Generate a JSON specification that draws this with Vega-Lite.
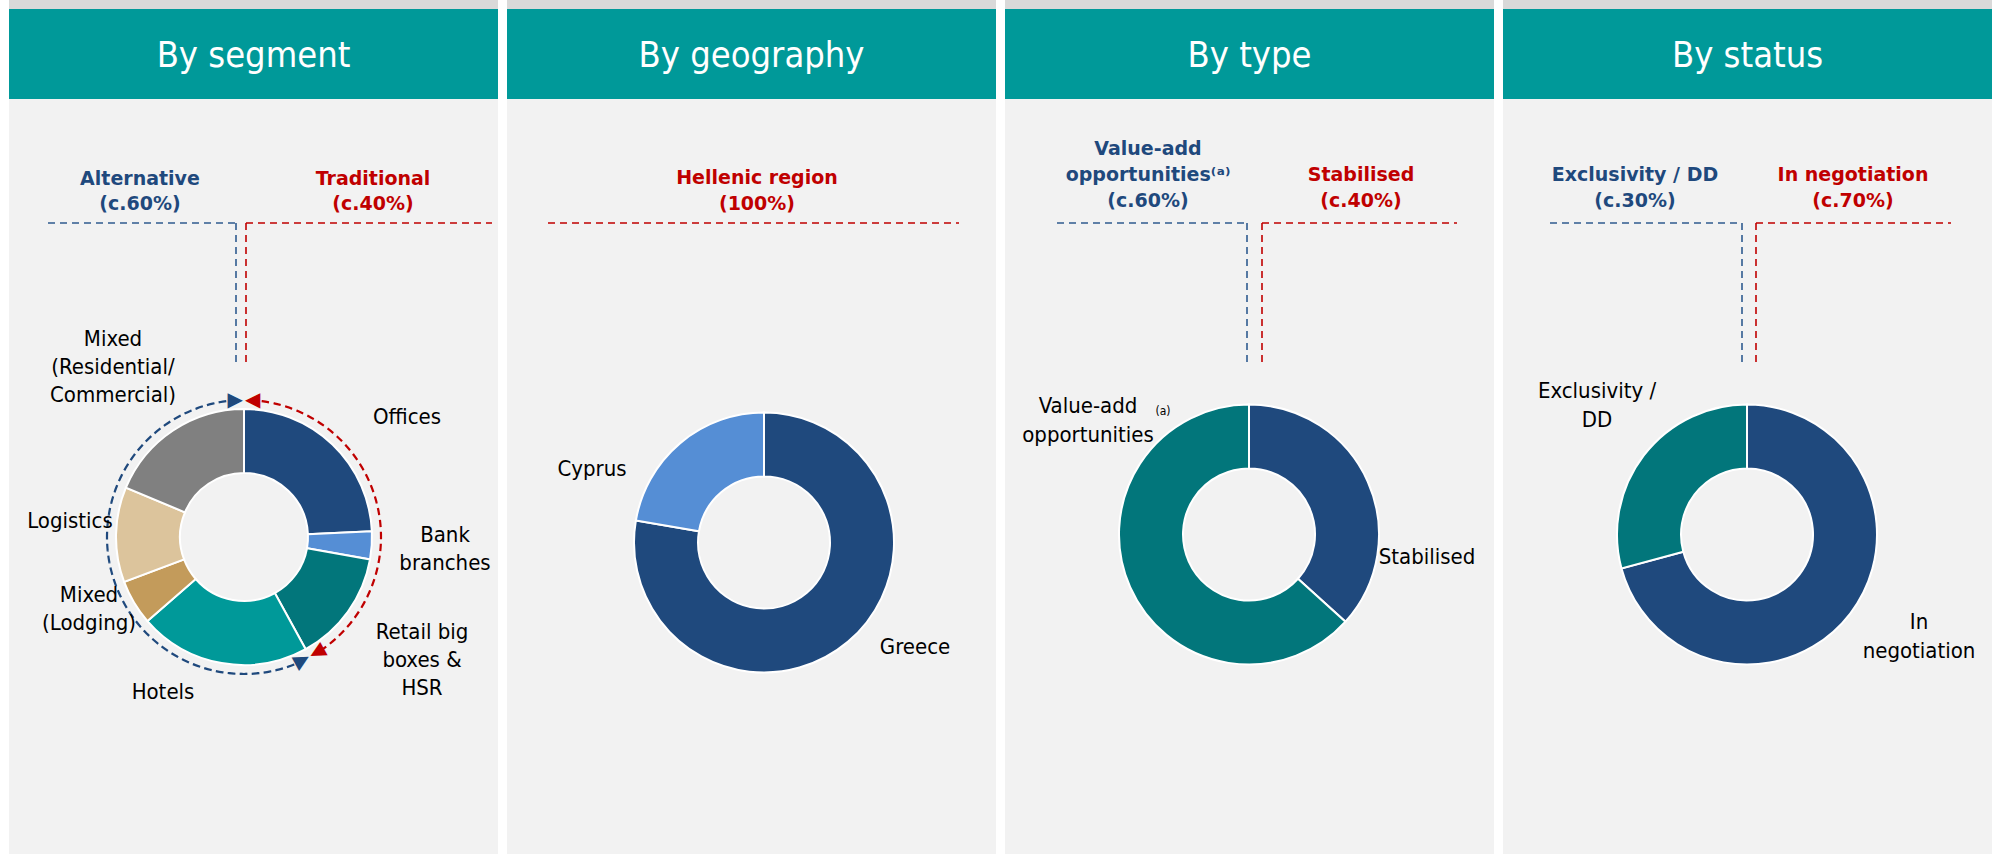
{
  "$schema": "https://vega.github.io/schema/vega-lite/v6.json",
  "background": "#ffffff",
  "padding": {"left": 9, "top": 0, "right": 0, "bottom": 0},
  "spacing": 9,
  "resolve": {"scale": {"x": "independent", "y": "independent", "theta": "independent", "color": "independent", "fill": "independent", "stroke": "independent", "angle": "independent"}},
  "config": {"view": {"stroke": null}, "axis": {"disable": true}},
  "datasets": {
    "segment": [
      {"category": "Offices", "label": "Offices", "group": "Traditional", "share": 24.3, "order": 1},
      {"category": "Bank branches", "label": "Bank\nbranches", "group": "Traditional", "share": 3.5, "order": 2},
      {"category": "Retail big boxes & HSR", "label": "Retail big\nboxes &\nHSR", "group": "Traditional", "share": 14.2, "order": 3},
      {"category": "Hotels", "label": "Hotels", "group": "Alternative", "share": 21.6, "order": 4},
      {"category": "Mixed (Lodging)", "label": "Mixed\n(Lodging)", "group": "Alternative", "share": 5.7, "order": 5},
      {"category": "Logistics", "label": "Logistics", "group": "Alternative", "share": 12.0, "order": 6},
      {"category": "Mixed (Residential/Commercial)", "label": "Mixed\n(Residential/\nCommercial)", "group": "Alternative", "share": 18.7, "order": 7}
    ],
    "segmentGroups": [
      {"group": "Alternative", "heading": "Alternative\n(c.60%)"},
      {"group": "Traditional", "heading": "Traditional\n(c.40%)"}
    ],
    "geography": [
      {"category": "Greece", "label": "Greece", "share": 77.7, "order": 1},
      {"category": "Cyprus", "label": "Cyprus", "share": 22.3, "order": 2}
    ],
    "geographyGroups": [
      {"group": "Hellenic region", "heading": "Hellenic region\n(100%)"}
    ],
    "type": [
      {"category": "Stabilised", "label": "Stabilised", "share": 36.7, "order": 1},
      {"category": "Value-add opportunities", "label": "Value-add\nopportunities", "note": "(a)", "share": 63.3, "order": 2}
    ],
    "typeGroups": [
      {"group": "Value-add opportunities", "heading": "Value-add\nopportunities⁽ᵃ⁾\n(c.60%)"},
      {"group": "Stabilised", "heading": "Stabilised\n(c.40%)"}
    ],
    "status": [
      {"category": "In negotiation", "label": "In\nnegotiation", "share": 70.8, "order": 1},
      {"category": "Exclusivity / DD", "label": "Exclusivity /\nDD", "share": 29.2, "order": 2}
    ],
    "statusGroups": [
      {"group": "Exclusivity / DD", "heading": "Exclusivity / DD\n(c.30%)"},
      {"group": "In negotiation", "heading": "In negotiation\n(c.70%)"}
    ]
  },
  "hconcat": [
    {
      "spacing": 0,
      "vconcat": [
        {"width": 489, "height": 9, "view": {"fill": "#d9d9d9", "stroke": null}, "data": {"values": [{"t": ""}]}, "mark": {"type": "text", "fontSize": 1, "baseline": "top"}, "encoding": {"text": {"field": "t", "type": "nominal"}}},
        {"width": 489, "height": 90, "view": {"fill": "#009999", "stroke": null}, "data": {"values": [{"title": "By segment"}]}, "mark": {"type": "text", "font": "DejaVu Sans Condensed, DejaVu Sans, sans-serif", "fontSize": 36, "color": "#ffffff", "baseline": "middle", "dy": 2}, "encoding": {"text": {"field": "title", "type": "nominal"}}},
        {
          "width": 489, "height": 755, "view": {"fill": "#f2f2f2", "stroke": null},
          "layer": [
            {"data": {"name": "segment"},
             "mark": {"type": "arc", "innerRadius": 64, "outerRadius": 128, "stroke": "#ffffff", "strokeWidth": 2},
             "encoding": {
               "theta": {"field": "share", "type": "quantitative", "stack": true},
               "order": {"field": "order", "type": "quantitative"},
               "color": {"field": "category", "type": "nominal", "legend": null, "scale": {"domain": ["Offices", "Bank branches", "Retail big boxes & HSR", "Hotels", "Mixed (Lodging)", "Logistics", "Mixed (Residential/Commercial)"], "range": ["#1f497d", "#558ed5", "#02767b", "#009999", "#c39b5b", "#dcc49c", "#808080"]}},
               "x": {"datum": 235, "type": "quantitative", "scale": {"domain": [0, 489], "nice": false}, "axis": null},
               "y": {"datum": 438, "type": "quantitative", "scale": {"domain": [0, 755], "nice": false, "reverse": true}, "axis": null}}},
            {"data": {"name": "segment"},
             "transform": [
               {"aggregate": [{"op": "sum", "field": "share", "as": "share"}, {"op": "min", "field": "order", "as": "order"}], "groupby": ["group"]},
               {"stack": "share", "groupby": [], "sort": [{"field": "order", "order": "ascending"}], "as": ["s0", "s1"]}],
             "mark": {"type": "arc", "innerRadius": 137, "outerRadius": 137, "padAngle": 0.1, "filled": false, "strokeWidth": 2.2, "strokeDash": [7, 5], "strokeDashOffset": 3.5},
             "encoding": {
               "theta": {"field": "s0", "type": "quantitative", "stack": null},
               "theta2": {"field": "s1"},
               "stroke": {"field": "group", "type": "nominal", "legend": null, "scale": {"domain": ["Traditional", "Alternative"], "range": ["#c00000", "#1f497d"]}},
               "x": {"datum": 235, "type": "quantitative", "scale": {"domain": [0, 489], "nice": false}, "axis": null},
               "y": {"datum": 438, "type": "quantitative", "scale": {"domain": [0, 755], "nice": false, "reverse": true}, "axis": null}}},
            {"data": {"name": "segment"},
             "transform": [
               {"aggregate": [{"op": "sum", "field": "share", "as": "share"}, {"op": "min", "field": "order", "as": "order"}], "groupby": ["group"]},
               {"stack": "share", "groupby": [], "sort": [{"field": "order", "order": "ascending"}], "as": ["s0", "s1"]}],
             "mark": {"type": "text", "text": "▶", "font": "DejaVu Sans", "fontSize": 20, "align": "right", "baseline": "middle", "radius": 137, "dx": -1},
             "encoding": {
               "theta": {"field": "s1", "type": "quantitative", "stack": null},
               "angle": {"field": "s1", "type": "quantitative", "legend": null, "scale": {"domain": [0, 100], "range": [0, 360]}},
               "fill": {"field": "group", "type": "nominal", "legend": null, "scale": {"domain": ["Traditional", "Alternative"], "range": ["#c00000", "#1f497d"]}},
               "x": {"datum": 235, "type": "quantitative", "scale": {"domain": [0, 489], "nice": false}, "axis": null},
               "y": {"datum": 438, "type": "quantitative", "scale": {"domain": [0, 755], "nice": false, "reverse": true}, "axis": null}}},
            {"data": {"name": "segment"},
             "transform": [
               {"aggregate": [{"op": "sum", "field": "share", "as": "share"}, {"op": "min", "field": "order", "as": "order"}], "groupby": ["group"]},
               {"stack": "share", "groupby": [], "sort": [{"field": "order", "order": "ascending"}], "as": ["s0", "s1"]}],
             "mark": {"type": "text", "text": "◀", "font": "DejaVu Sans", "fontSize": 20, "align": "left", "baseline": "middle", "radius": 137, "dx": 1},
             "encoding": {
               "theta": {"field": "s0", "type": "quantitative", "stack": null},
               "angle": {"field": "s0", "type": "quantitative", "legend": null, "scale": {"domain": [0, 100], "range": [0, 360]}},
               "fill": {"field": "group", "type": "nominal", "legend": null, "scale": {"domain": ["Traditional", "Alternative"], "range": ["#c00000", "#1f497d"]}},
               "x": {"datum": 235, "type": "quantitative", "scale": {"domain": [0, 489], "nice": false}, "axis": null},
               "y": {"datum": 438, "type": "quantitative", "scale": {"domain": [0, 755], "nice": false, "reverse": true}, "axis": null}}},
            {"data": {"name": "segment"}, "transform": [{"filter": "datum.order === 1"}],
             "mark": {"type": "text", "font": "DejaVu Sans Condensed, DejaVu Sans, sans-serif", "fontSize": 22, "lineHeight": 28, "lineBreak": "\n", "color": "#000000", "align": "center", "baseline": "middle"},
             "encoding": {"text": {"field": "label", "type": "nominal"},
               "x": {"datum": 398, "type": "quantitative", "scale": {"domain": [0, 489], "nice": false}, "axis": null},
               "y": {"datum": 318, "type": "quantitative", "scale": {"domain": [0, 755], "nice": false, "reverse": true}, "axis": null}}},
            {"data": {"name": "segment"}, "transform": [{"filter": "datum.order === 2"}],
             "mark": {"type": "text", "font": "DejaVu Sans Condensed, DejaVu Sans, sans-serif", "fontSize": 22, "lineHeight": 28, "lineBreak": "\n", "color": "#000000", "align": "center", "baseline": "middle"},
             "encoding": {"text": {"field": "label", "type": "nominal"},
               "x": {"datum": 436, "type": "quantitative", "scale": {"domain": [0, 489], "nice": false}, "axis": null},
               "y": {"datum": 436, "type": "quantitative", "scale": {"domain": [0, 755], "nice": false, "reverse": true}, "axis": null}}},
            {"data": {"name": "segment"}, "transform": [{"filter": "datum.order === 3"}],
             "mark": {"type": "text", "font": "DejaVu Sans Condensed, DejaVu Sans, sans-serif", "fontSize": 22, "lineHeight": 28, "lineBreak": "\n", "color": "#000000", "align": "center", "baseline": "middle"},
             "encoding": {"text": {"field": "label", "type": "nominal"},
               "x": {"datum": 413, "type": "quantitative", "scale": {"domain": [0, 489], "nice": false}, "axis": null},
               "y": {"datum": 533, "type": "quantitative", "scale": {"domain": [0, 755], "nice": false, "reverse": true}, "axis": null}}},
            {"data": {"name": "segment"}, "transform": [{"filter": "datum.order === 4"}],
             "mark": {"type": "text", "font": "DejaVu Sans Condensed, DejaVu Sans, sans-serif", "fontSize": 22, "lineHeight": 28, "lineBreak": "\n", "color": "#000000", "align": "center", "baseline": "middle"},
             "encoding": {"text": {"field": "label", "type": "nominal"},
               "x": {"datum": 154, "type": "quantitative", "scale": {"domain": [0, 489], "nice": false}, "axis": null},
               "y": {"datum": 593, "type": "quantitative", "scale": {"domain": [0, 755], "nice": false, "reverse": true}, "axis": null}}},
            {"data": {"name": "segment"}, "transform": [{"filter": "datum.order === 5"}],
             "mark": {"type": "text", "font": "DejaVu Sans Condensed, DejaVu Sans, sans-serif", "fontSize": 22, "lineHeight": 28, "lineBreak": "\n", "color": "#000000", "align": "center", "baseline": "middle"},
             "encoding": {"text": {"field": "label", "type": "nominal"},
               "x": {"datum": 80, "type": "quantitative", "scale": {"domain": [0, 489], "nice": false}, "axis": null},
               "y": {"datum": 496, "type": "quantitative", "scale": {"domain": [0, 755], "nice": false, "reverse": true}, "axis": null}}},
            {"data": {"name": "segment"}, "transform": [{"filter": "datum.order === 6"}],
             "mark": {"type": "text", "font": "DejaVu Sans Condensed, DejaVu Sans, sans-serif", "fontSize": 22, "lineHeight": 28, "lineBreak": "\n", "color": "#000000", "align": "center", "baseline": "middle"},
             "encoding": {"text": {"field": "label", "type": "nominal"},
               "x": {"datum": 61, "type": "quantitative", "scale": {"domain": [0, 489], "nice": false}, "axis": null},
               "y": {"datum": 422, "type": "quantitative", "scale": {"domain": [0, 755], "nice": false, "reverse": true}, "axis": null}}},
            {"data": {"name": "segment"}, "transform": [{"filter": "datum.order === 7"}],
             "mark": {"type": "text", "font": "DejaVu Sans Condensed, DejaVu Sans, sans-serif", "fontSize": 22, "lineHeight": 28, "lineBreak": "\n", "color": "#000000", "align": "center", "baseline": "middle"},
             "encoding": {"text": {"field": "label", "type": "nominal"},
               "x": {"datum": 104, "type": "quantitative", "scale": {"domain": [0, 489], "nice": false}, "axis": null},
               "y": {"datum": 240, "type": "quantitative", "scale": {"domain": [0, 755], "nice": false, "reverse": true}, "axis": null}}},
            {"data": {"name": "segmentGroups"}, "transform": [{"filter": "datum.group === 'Alternative'"}],
             "mark": {"type": "text", "font": "DejaVu Sans, sans-serif", "fontSize": 19, "fontWeight": "bold", "lineHeight": 25, "lineBreak": "\n", "color": "#1f497d", "align": "center", "baseline": "middle"},
             "encoding": {"text": {"field": "heading", "type": "nominal"},
               "x": {"datum": 131, "type": "quantitative", "scale": {"domain": [0, 489], "nice": false}, "axis": null},
               "y": {"datum": 80, "type": "quantitative", "scale": {"domain": [0, 755], "nice": false, "reverse": true}, "axis": null}}},
            {"data": {"name": "segmentGroups"}, "transform": [{"filter": "datum.group === 'Traditional'"}],
             "mark": {"type": "text", "font": "DejaVu Sans, sans-serif", "fontSize": 19, "fontWeight": "bold", "lineHeight": 25, "lineBreak": "\n", "color": "#c00000", "align": "center", "baseline": "middle"},
             "encoding": {"text": {"field": "heading", "type": "nominal"},
               "x": {"datum": 364, "type": "quantitative", "scale": {"domain": [0, 489], "nice": false}, "axis": null},
               "y": {"datum": 80, "type": "quantitative", "scale": {"domain": [0, 755], "nice": false, "reverse": true}, "axis": null}}},
            {"data": {"name": "segmentGroups"}, "transform": [{"filter": "datum.group === 'Alternative'"}],
             "mark": {"type": "rule", "stroke": "#2f5b8f", "strokeWidth": 1.6, "strokeDash": [7, 5]},
             "encoding": {
               "x": {"datum": 39, "type": "quantitative", "scale": {"domain": [0, 489], "nice": false}, "axis": null},
               "x2": {"datum": 227},
               "y": {"datum": 124, "type": "quantitative", "scale": {"domain": [0, 755], "nice": false, "reverse": true}, "axis": null}}},
            {"data": {"name": "segmentGroups"}, "transform": [{"filter": "datum.group === 'Alternative'"}],
             "mark": {"type": "rule", "stroke": "#2f5b8f", "strokeWidth": 1.6, "strokeDash": [7, 5]},
             "encoding": {
               "x": {"datum": 227, "type": "quantitative", "scale": {"domain": [0, 489], "nice": false}, "axis": null},
               "y": {"datum": 124, "type": "quantitative", "scale": {"domain": [0, 755], "nice": false, "reverse": true}, "axis": null},
               "y2": {"datum": 268}}},
            {"data": {"name": "segmentGroups"}, "transform": [{"filter": "datum.group === 'Traditional'"}],
             "mark": {"type": "rule", "stroke": "#c00000", "strokeWidth": 1.6, "strokeDash": [7, 5]},
             "encoding": {
               "x": {"datum": 237, "type": "quantitative", "scale": {"domain": [0, 489], "nice": false}, "axis": null},
               "y": {"datum": 124, "type": "quantitative", "scale": {"domain": [0, 755], "nice": false, "reverse": true}, "axis": null},
               "y2": {"datum": 268}}},
            {"data": {"name": "segmentGroups"}, "transform": [{"filter": "datum.group === 'Traditional'"}],
             "mark": {"type": "rule", "stroke": "#c00000", "strokeWidth": 1.6, "strokeDash": [7, 5]},
             "encoding": {
               "x": {"datum": 237, "type": "quantitative", "scale": {"domain": [0, 489], "nice": false}, "axis": null},
               "x2": {"datum": 483},
               "y": {"datum": 124, "type": "quantitative", "scale": {"domain": [0, 755], "nice": false, "reverse": true}, "axis": null}}}
          ]
        }
      ]
    },
    {
      "spacing": 0,
      "vconcat": [
        {"width": 489, "height": 9, "view": {"fill": "#d9d9d9", "stroke": null}, "data": {"values": [{"t": ""}]}, "mark": {"type": "text", "fontSize": 1, "baseline": "top"}, "encoding": {"text": {"field": "t", "type": "nominal"}}},
        {"width": 489, "height": 90, "view": {"fill": "#009999", "stroke": null}, "data": {"values": [{"title": "By geography"}]}, "mark": {"type": "text", "font": "DejaVu Sans Condensed, DejaVu Sans, sans-serif", "fontSize": 36, "color": "#ffffff", "baseline": "middle", "dy": 2}, "encoding": {"text": {"field": "title", "type": "nominal"}}},
        {
          "width": 489, "height": 755, "view": {"fill": "#f2f2f2", "stroke": null},
          "layer": [
            {"data": {"name": "geography"},
             "mark": {"type": "arc", "innerRadius": 66, "outerRadius": 130, "stroke": "#ffffff", "strokeWidth": 2},
             "encoding": {
               "theta": {"field": "share", "type": "quantitative", "stack": true},
               "order": {"field": "order", "type": "quantitative"},
               "color": {"field": "category", "type": "nominal", "legend": null, "scale": {"domain": ["Greece", "Cyprus"], "range": ["#1f497d", "#558ed5"]}},
               "x": {"datum": 257, "type": "quantitative", "scale": {"domain": [0, 489], "nice": false}, "axis": null},
               "y": {"datum": 443.5, "type": "quantitative", "scale": {"domain": [0, 755], "nice": false, "reverse": true}, "axis": null}}},
            {"data": {"name": "geography"}, "transform": [{"filter": "datum.order === 2"}],
             "mark": {"type": "text", "font": "DejaVu Sans Condensed, DejaVu Sans, sans-serif", "fontSize": 22, "lineHeight": 29, "lineBreak": "\n", "color": "#000000", "align": "center", "baseline": "middle"},
             "encoding": {"text": {"field": "label", "type": "nominal"},
               "x": {"datum": 85, "type": "quantitative", "scale": {"domain": [0, 489], "nice": false}, "axis": null},
               "y": {"datum": 370, "type": "quantitative", "scale": {"domain": [0, 755], "nice": false, "reverse": true}, "axis": null}}},
            {"data": {"name": "geography"}, "transform": [{"filter": "datum.order === 1"}],
             "mark": {"type": "text", "font": "DejaVu Sans Condensed, DejaVu Sans, sans-serif", "fontSize": 22, "lineHeight": 29, "lineBreak": "\n", "color": "#000000", "align": "center", "baseline": "middle"},
             "encoding": {"text": {"field": "label", "type": "nominal"},
               "x": {"datum": 408, "type": "quantitative", "scale": {"domain": [0, 489], "nice": false}, "axis": null},
               "y": {"datum": 548, "type": "quantitative", "scale": {"domain": [0, 755], "nice": false, "reverse": true}, "axis": null}}},
            {"data": {"name": "geographyGroups"},
             "mark": {"type": "text", "font": "DejaVu Sans, sans-serif", "fontSize": 19, "fontWeight": "bold", "lineHeight": 26, "lineBreak": "\n", "color": "#c00000", "align": "center", "baseline": "middle"},
             "encoding": {"text": {"field": "heading", "type": "nominal"},
               "x": {"datum": 250, "type": "quantitative", "scale": {"domain": [0, 489], "nice": false}, "axis": null},
               "y": {"datum": 79, "type": "quantitative", "scale": {"domain": [0, 755], "nice": false, "reverse": true}, "axis": null}}},
            {"data": {"name": "geographyGroups"},
             "mark": {"type": "rule", "stroke": "#c00000", "strokeWidth": 1.6, "strokeDash": [7, 5]},
             "encoding": {
               "x": {"datum": 41, "type": "quantitative", "scale": {"domain": [0, 489], "nice": false}, "axis": null},
               "x2": {"datum": 452},
               "y": {"datum": 124, "type": "quantitative", "scale": {"domain": [0, 755], "nice": false, "reverse": true}, "axis": null}}}
          ]
        }
      ]
    },
    {
      "spacing": 0,
      "vconcat": [
        {"width": 489, "height": 9, "view": {"fill": "#d9d9d9", "stroke": null}, "data": {"values": [{"t": ""}]}, "mark": {"type": "text", "fontSize": 1, "baseline": "top"}, "encoding": {"text": {"field": "t", "type": "nominal"}}},
        {"width": 489, "height": 90, "view": {"fill": "#009999", "stroke": null}, "data": {"values": [{"title": "By type"}]}, "mark": {"type": "text", "font": "DejaVu Sans Condensed, DejaVu Sans, sans-serif", "fontSize": 36, "color": "#ffffff", "baseline": "middle", "dy": 2}, "encoding": {"text": {"field": "title", "type": "nominal"}}},
        {
          "width": 489, "height": 755, "view": {"fill": "#f2f2f2", "stroke": null},
          "layer": [
            {"data": {"name": "type"},
             "mark": {"type": "arc", "innerRadius": 66, "outerRadius": 130, "stroke": "#ffffff", "strokeWidth": 2},
             "encoding": {
               "theta": {"field": "share", "type": "quantitative", "stack": true},
               "order": {"field": "order", "type": "quantitative"},
               "color": {"field": "category", "type": "nominal", "legend": null, "scale": {"domain": ["Stabilised", "Value-add opportunities"], "range": ["#1f497d", "#02767b"]}},
               "x": {"datum": 244, "type": "quantitative", "scale": {"domain": [0, 489], "nice": false}, "axis": null},
               "y": {"datum": 435.5, "type": "quantitative", "scale": {"domain": [0, 755], "nice": false, "reverse": true}, "axis": null}}},
            {"data": {"name": "type"}, "transform": [{"filter": "datum.order === 2"}],
             "mark": {"type": "text", "font": "DejaVu Sans Condensed, DejaVu Sans, sans-serif", "fontSize": 22, "lineHeight": 29, "lineBreak": "\n", "color": "#000000", "align": "center", "baseline": "middle"},
             "encoding": {"text": {"field": "label", "type": "nominal"},
               "x": {"datum": 83, "type": "quantitative", "scale": {"domain": [0, 489], "nice": false}, "axis": null},
               "y": {"datum": 307, "type": "quantitative", "scale": {"domain": [0, 755], "nice": false, "reverse": true}, "axis": null}}},
            {"data": {"name": "type"}, "transform": [{"filter": "datum.order === 2"}],
             "mark": {"type": "text", "font": "DejaVu Sans Condensed, DejaVu Sans, sans-serif", "fontSize": 12, "color": "#000000", "align": "center", "baseline": "middle"},
             "encoding": {"text": {"field": "note", "type": "nominal"},
               "x": {"datum": 158, "type": "quantitative", "scale": {"domain": [0, 489], "nice": false}, "axis": null},
               "y": {"datum": 312, "type": "quantitative", "scale": {"domain": [0, 755], "nice": false, "reverse": true}, "axis": null}}},
            {"data": {"name": "type"}, "transform": [{"filter": "datum.order === 1"}],
             "mark": {"type": "text", "font": "DejaVu Sans Condensed, DejaVu Sans, sans-serif", "fontSize": 22, "lineHeight": 29, "lineBreak": "\n", "color": "#000000", "align": "center", "baseline": "middle"},
             "encoding": {"text": {"field": "label", "type": "nominal"},
               "x": {"datum": 422, "type": "quantitative", "scale": {"domain": [0, 489], "nice": false}, "axis": null},
               "y": {"datum": 458, "type": "quantitative", "scale": {"domain": [0, 755], "nice": false, "reverse": true}, "axis": null}}},
            {"data": {"name": "typeGroups"}, "transform": [{"filter": "datum.group === 'Value-add opportunities'"}],
             "mark": {"type": "text", "font": "DejaVu Sans, sans-serif", "fontSize": 19, "fontWeight": "bold", "lineHeight": 26, "lineBreak": "\n", "color": "#1f497d", "align": "center", "baseline": "middle"},
             "encoding": {"text": {"field": "heading", "type": "nominal"},
               "x": {"datum": 143, "type": "quantitative", "scale": {"domain": [0, 489], "nice": false}, "axis": null},
               "y": {"datum": 50, "type": "quantitative", "scale": {"domain": [0, 755], "nice": false, "reverse": true}, "axis": null}}},
            {"data": {"name": "typeGroups"}, "transform": [{"filter": "datum.group === 'Stabilised'"}],
             "mark": {"type": "text", "font": "DejaVu Sans, sans-serif", "fontSize": 19, "fontWeight": "bold", "lineHeight": 26, "lineBreak": "\n", "color": "#c00000", "align": "center", "baseline": "middle"},
             "encoding": {"text": {"field": "heading", "type": "nominal"},
               "x": {"datum": 356, "type": "quantitative", "scale": {"domain": [0, 489], "nice": false}, "axis": null},
               "y": {"datum": 76, "type": "quantitative", "scale": {"domain": [0, 755], "nice": false, "reverse": true}, "axis": null}}},
            {"data": {"name": "typeGroups"}, "transform": [{"filter": "datum.group === 'Value-add opportunities'"}],
             "mark": {"type": "rule", "stroke": "#2f5b8f", "strokeWidth": 1.6, "strokeDash": [7, 5]},
             "encoding": {
               "x": {"datum": 52, "type": "quantitative", "scale": {"domain": [0, 489], "nice": false}, "axis": null},
               "x2": {"datum": 242},
               "y": {"datum": 124, "type": "quantitative", "scale": {"domain": [0, 755], "nice": false, "reverse": true}, "axis": null}}},
            {"data": {"name": "typeGroups"}, "transform": [{"filter": "datum.group === 'Value-add opportunities'"}],
             "mark": {"type": "rule", "stroke": "#2f5b8f", "strokeWidth": 1.6, "strokeDash": [7, 5]},
             "encoding": {
               "x": {"datum": 242, "type": "quantitative", "scale": {"domain": [0, 489], "nice": false}, "axis": null},
               "y": {"datum": 124, "type": "quantitative", "scale": {"domain": [0, 755], "nice": false, "reverse": true}, "axis": null},
               "y2": {"datum": 268}}},
            {"data": {"name": "typeGroups"}, "transform": [{"filter": "datum.group === 'Stabilised'"}],
             "mark": {"type": "rule", "stroke": "#c00000", "strokeWidth": 1.6, "strokeDash": [7, 5]},
             "encoding": {
               "x": {"datum": 257, "type": "quantitative", "scale": {"domain": [0, 489], "nice": false}, "axis": null},
               "y": {"datum": 124, "type": "quantitative", "scale": {"domain": [0, 755], "nice": false, "reverse": true}, "axis": null},
               "y2": {"datum": 268}}},
            {"data": {"name": "typeGroups"}, "transform": [{"filter": "datum.group === 'Stabilised'"}],
             "mark": {"type": "rule", "stroke": "#c00000", "strokeWidth": 1.6, "strokeDash": [7, 5]},
             "encoding": {
               "x": {"datum": 257, "type": "quantitative", "scale": {"domain": [0, 489], "nice": false}, "axis": null},
               "x2": {"datum": 452},
               "y": {"datum": 124, "type": "quantitative", "scale": {"domain": [0, 755], "nice": false, "reverse": true}, "axis": null}}}
          ]
        }
      ]
    },
    {
      "spacing": 0,
      "vconcat": [
        {"width": 489, "height": 9, "view": {"fill": "#d9d9d9", "stroke": null}, "data": {"values": [{"t": ""}]}, "mark": {"type": "text", "fontSize": 1, "baseline": "top"}, "encoding": {"text": {"field": "t", "type": "nominal"}}},
        {"width": 489, "height": 90, "view": {"fill": "#009999", "stroke": null}, "data": {"values": [{"title": "By status"}]}, "mark": {"type": "text", "font": "DejaVu Sans Condensed, DejaVu Sans, sans-serif", "fontSize": 36, "color": "#ffffff", "baseline": "middle", "dy": 2}, "encoding": {"text": {"field": "title", "type": "nominal"}}},
        {
          "width": 489, "height": 755, "view": {"fill": "#f2f2f2", "stroke": null},
          "layer": [
            {"data": {"name": "status"},
             "mark": {"type": "arc", "innerRadius": 66, "outerRadius": 130, "stroke": "#ffffff", "strokeWidth": 2},
             "encoding": {
               "theta": {"field": "share", "type": "quantitative", "stack": true},
               "order": {"field": "order", "type": "quantitative"},
               "color": {"field": "category", "type": "nominal", "legend": null, "scale": {"domain": ["In negotiation", "Exclusivity / DD"], "range": ["#1f497d", "#02767b"]}},
               "x": {"datum": 244, "type": "quantitative", "scale": {"domain": [0, 489], "nice": false}, "axis": null},
               "y": {"datum": 435.5, "type": "quantitative", "scale": {"domain": [0, 755], "nice": false, "reverse": true}, "axis": null}}},
            {"data": {"name": "status"}, "transform": [{"filter": "datum.order === 2"}],
             "mark": {"type": "text", "font": "DejaVu Sans Condensed, DejaVu Sans, sans-serif", "fontSize": 22, "lineHeight": 29, "lineBreak": "\n", "color": "#000000", "align": "center", "baseline": "middle"},
             "encoding": {"text": {"field": "label", "type": "nominal"},
               "x": {"datum": 94, "type": "quantitative", "scale": {"domain": [0, 489], "nice": false}, "axis": null},
               "y": {"datum": 292, "type": "quantitative", "scale": {"domain": [0, 755], "nice": false, "reverse": true}, "axis": null}}},
            {"data": {"name": "status"}, "transform": [{"filter": "datum.order === 1"}],
             "mark": {"type": "text", "font": "DejaVu Sans Condensed, DejaVu Sans, sans-serif", "fontSize": 22, "lineHeight": 29, "lineBreak": "\n", "color": "#000000", "align": "center", "baseline": "middle"},
             "encoding": {"text": {"field": "label", "type": "nominal"},
               "x": {"datum": 416, "type": "quantitative", "scale": {"domain": [0, 489], "nice": false}, "axis": null},
               "y": {"datum": 523, "type": "quantitative", "scale": {"domain": [0, 755], "nice": false, "reverse": true}, "axis": null}}},
            {"data": {"name": "statusGroups"}, "transform": [{"filter": "datum.group === 'Exclusivity / DD'"}],
             "mark": {"type": "text", "font": "DejaVu Sans, sans-serif", "fontSize": 19, "fontWeight": "bold", "lineHeight": 26, "lineBreak": "\n", "color": "#1f497d", "align": "center", "baseline": "middle"},
             "encoding": {"text": {"field": "heading", "type": "nominal"},
               "x": {"datum": 132, "type": "quantitative", "scale": {"domain": [0, 489], "nice": false}, "axis": null},
               "y": {"datum": 76, "type": "quantitative", "scale": {"domain": [0, 755], "nice": false, "reverse": true}, "axis": null}}},
            {"data": {"name": "statusGroups"}, "transform": [{"filter": "datum.group === 'In negotiation'"}],
             "mark": {"type": "text", "font": "DejaVu Sans, sans-serif", "fontSize": 19, "fontWeight": "bold", "lineHeight": 26, "lineBreak": "\n", "color": "#c00000", "align": "center", "baseline": "middle"},
             "encoding": {"text": {"field": "heading", "type": "nominal"},
               "x": {"datum": 350, "type": "quantitative", "scale": {"domain": [0, 489], "nice": false}, "axis": null},
               "y": {"datum": 76, "type": "quantitative", "scale": {"domain": [0, 755], "nice": false, "reverse": true}, "axis": null}}},
            {"data": {"name": "statusGroups"}, "transform": [{"filter": "datum.group === 'Exclusivity / DD'"}],
             "mark": {"type": "rule", "stroke": "#2f5b8f", "strokeWidth": 1.6, "strokeDash": [7, 5]},
             "encoding": {
               "x": {"datum": 47, "type": "quantitative", "scale": {"domain": [0, 489], "nice": false}, "axis": null},
               "x2": {"datum": 239},
               "y": {"datum": 124, "type": "quantitative", "scale": {"domain": [0, 755], "nice": false, "reverse": true}, "axis": null}}},
            {"data": {"name": "statusGroups"}, "transform": [{"filter": "datum.group === 'Exclusivity / DD'"}],
             "mark": {"type": "rule", "stroke": "#2f5b8f", "strokeWidth": 1.6, "strokeDash": [7, 5]},
             "encoding": {
               "x": {"datum": 239, "type": "quantitative", "scale": {"domain": [0, 489], "nice": false}, "axis": null},
               "y": {"datum": 124, "type": "quantitative", "scale": {"domain": [0, 755], "nice": false, "reverse": true}, "axis": null},
               "y2": {"datum": 268}}},
            {"data": {"name": "statusGroups"}, "transform": [{"filter": "datum.group === 'In negotiation'"}],
             "mark": {"type": "rule", "stroke": "#c00000", "strokeWidth": 1.6, "strokeDash": [7, 5]},
             "encoding": {
               "x": {"datum": 253, "type": "quantitative", "scale": {"domain": [0, 489], "nice": false}, "axis": null},
               "y": {"datum": 124, "type": "quantitative", "scale": {"domain": [0, 755], "nice": false, "reverse": true}, "axis": null},
               "y2": {"datum": 268}}},
            {"data": {"name": "statusGroups"}, "transform": [{"filter": "datum.group === 'In negotiation'"}],
             "mark": {"type": "rule", "stroke": "#c00000", "strokeWidth": 1.6, "strokeDash": [7, 5]},
             "encoding": {
               "x": {"datum": 253, "type": "quantitative", "scale": {"domain": [0, 489], "nice": false}, "axis": null},
               "x2": {"datum": 448},
               "y": {"datum": 124, "type": "quantitative", "scale": {"domain": [0, 755], "nice": false, "reverse": true}, "axis": null}}}
          ]
        }
      ]
    }
  ]
}
